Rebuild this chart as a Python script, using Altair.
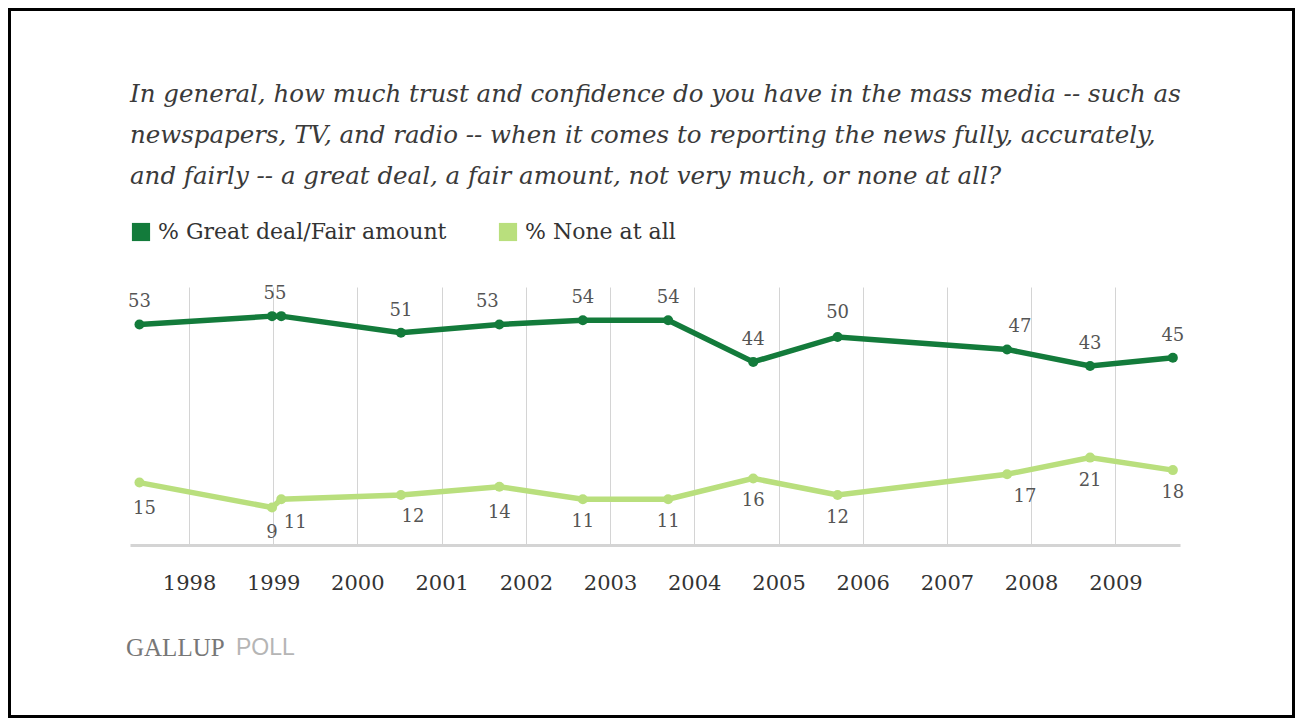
import altair as alt
import pandas as pd

# ---- data ----
poll_dates = ["1997-05-31", "1998-12-27", "1999-02-05", "2000-07-08", "2001-09-08",
              "2002-09-05", "2003-09-10", "2004-09-13", "2005-09-14", "2007-09-19",
              "2008-09-13", "2009-09-07"]
great_fair = [53, 55, 55, 51, 53, 54, 54, 44, 50, 47, 43, 45]
none_at_all = [15, 9, 11, 12, 14, 11, 11, 16, 12, 17, 21, 18]
series_names = ["% Great deal/Fair amount", "% None at all"]
series_colors = ["#137b3b", "#b9df7d"]
year_ticks = list(range(1998, 2010))
title_lines = [
    "In general, how much trust and confidence do you have in the mass media -- such as",
    "newspapers, TV, and radio -- when it comes to reporting the news fully, accurately,",
    "and fairly -- a great deal, a fair amount, not very much, or none at all?",
]
source_main = "GALLUP"
source_tail = "POLL"

rows = []
for i, d in enumerate(poll_dates):
    rows.append({"date": d + "T00:00:00", "series": series_names[0], "value": great_fair[i], "idx": i})
    rows.append({"date": d + "T00:00:00", "series": series_names[1], "value": none_at_all[i], "idx": i})
df = pd.DataFrame(rows)

W, H = 1050, 258

x_enc = alt.X(
    "date:T",
    scale=alt.Scale(domain=[alt.DateTime(year=1997, month=4, date=20),
                            alt.DateTime(year=2009, month=10, date=8)]),
    axis=alt.Axis(
        values=[alt.DateTime(year=y, month=1, date=1) for y in year_ticks],
        format="%Y", title=None, grid=True, gridColor="#d4d4d4", gridWidth=1,
        ticks=False, tickSize=0, domain=True, domainColor="#d4d4d4", domainWidth=3,
        labelFont="DejaVu Serif", labelFontSize=21, labelColor="#333333",
        labelPadding=27, labelFlush=False, labelOverlap=False,
    ),
)
y_enc = alt.Y("value:Q", scale=alt.Scale(domain=[0, 62]), axis=None)
color_scale = alt.Scale(domain=series_names, range=series_colors)

base = alt.Chart(df)

line_layers = [
    base.transform_filter(alt.datum.series == s)
    .mark_line(strokeWidth=5.5, color=c)
    .encode(x=x_enc, y=y_enc)
    for s, c in zip(series_names, series_colors)
]
points = base.mark_point(filled=True, size=100, opacity=1).encode(
    x=x_enc, y=y_enc,
    color=alt.Color(
        "series:N", scale=color_scale,
        legend=alt.Legend(
            orient="none", legendX=0, legendY=-66, direction="horizontal", title=None,
            symbolType="square", symbolSize=330, symbolStrokeWidth=0, symbolOpacity=1,
            labelFont="DejaVu Serif", labelFontSize=22, labelColor="#333333",
            labelOffset=6, labelLimit=500, columnPadding=50, padding=0,
        ),
    ),
)

# label nudges (dx, dy) per series / poll index; default per series
default_nudge = {series_names[0]: (0, -22), series_names[1]: (0, 23)}
special_nudge = {
    (series_names[0], 1): (3, -22),
    (series_names[0], 4): (-12, -22),
    (series_names[0], 8): (0, -24),
    (series_names[0], 9): (13, -22),
    (series_names[1], 0): (5, 26),
    (series_names[1], 1): (0, 25),
    (series_names[1], 2): (14, 24),
    (series_names[1], 3): (12, 22),
    (series_names[1], 4): (0, 26),
    (series_names[1], 9): (18, 23),
}
unlabeled = {(series_names[0], 2)}

groups = {}
for s in series_names:
    for i in range(len(poll_dates)):
        if (s, i) in unlabeled:
            continue
        nd = special_nudge.get((s, i), default_nudge[s])
        groups.setdefault((s, nd), []).append(i)

label_layers = []
for (s, (dx, dy)), idxs in groups.items():
    label_layers.append(
        base.transform_filter(alt.datum.series == s)
        .transform_filter(alt.FieldOneOfPredicate(field="idx", oneOf=idxs))
        .mark_text(dx=dx, dy=dy, font="DejaVu Serif", fontSize=18, color="#555555",
                   align="center", baseline="middle")
        .encode(x=x_enc, y=y_enc, text="value:Q")
    )

foot_df = pd.DataFrame({"a": [source_main], "b": [source_tail]})
foot1 = alt.Chart(foot_df).mark_text(
    font="Liberation Serif", fontSize=25, color="#777777", align="left", baseline="middle"
).encode(text="a:N", x=alt.value(-4), y=alt.value(361))
foot2 = alt.Chart(foot_df).mark_text(
    font="Liberation Sans", fontSize=23, color="#b5b5b5", align="left", baseline="middle"
).encode(text="b:N", x=alt.value(106), y=alt.value(361))

border = alt.Chart(foot_df).mark_rect(filled=False, stroke="black", strokeWidth=3).encode(
    x=alt.value(-120.5), x2=alt.value(1163.5), y=alt.value(-277.5), y2=alt.value(429.5)
)

chart = alt.layer(*line_layers, points, *label_layers, foot1, foot2, border).properties(
    width=W, height=H,
    background="white",
    title=alt.TitleParams(
        text=title_lines, anchor="start", frame="group", orient="top", offset=-181,
        font="DejaVu Serif", fontSize=24.5, fontStyle="italic", fontWeight="normal",
        color="#3a3a3a", lineHeight=41,
    ),
    padding={"left": 122, "top": 279, "right": 115, "bottom": 173},
    autosize=alt.AutoSizeParams(type="none"),
).configure_view(stroke=None)

chart.save("out.html", embed_options={"renderer": "svg", "actions": False})
